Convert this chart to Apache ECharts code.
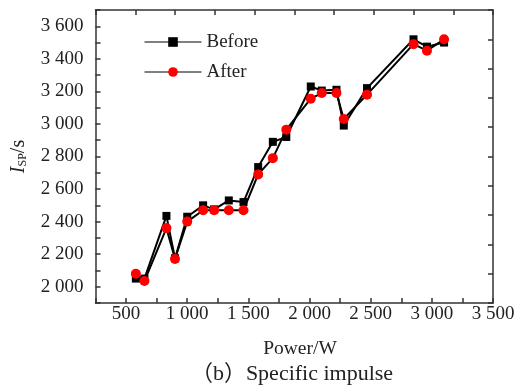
<!DOCTYPE html>
<html>
<head>
<meta charset="utf-8">
<script src="https://cdn.jsdelivr.net/npm/echarts@6/dist/echarts.min.js"></script>
<style>html,body{margin:0;padding:0;background:#fff}#c{width:519px;height:391px}</style>
</head>
<body>
<div id="c"></div>
<script>
const power = [580, 650, 830, 900, 1000, 1130, 1220, 1340, 1460, 1580, 1700, 1810, 2010, 2100, 2220, 2280, 2470, 2850, 2960, 3100];
const before = [2050, 2050, 2435, 2175, 2430, 2500, 2475, 2530, 2520, 2735, 2890, 2920, 3230, 3205, 3210, 2990, 3220, 3520, 3475, 3500];
const after = [2080, 2035, 2360, 2170, 2400, 2470, 2470, 2470, 2470, 2690, 2790, 2965, 3155, 3190, 3190, 3030, 3180, 3490, 3450, 3520];
const xTickLabels = [500, 1000, 1500, 2000, 2500, 3000, 3500];
const yTickLabels = [2000, 2200, 2400, 2600, 2800, 3000, 3200, 3400, 3600];
const seriesNames = ['Before', 'After'];

const fmt = v => { const s = String(v); return s.length > 3 ? s.slice(0, s.length - 3) + ' ' + s.slice(-3) : s; };
const FONT = 'Liberation Serif';
const axisCol = '#333';

const chart = echarts.init(document.getElementById('c'), null, {renderer: 'canvas'});
chart.setOption({
  animation: false,
  backgroundColor: '#fff',
  textStyle: {fontFamily: FONT},
  grid: {left: 95, right: 26, top: 10, bottom: 88, containLabel: false},
  title: [
    {text: 'Power/W', left: 295, top: 334, textAlign: 'center',
     textStyle: {fontFamily: FONT, fontSize: 19.5, fontWeight: 'normal', color: '#222'}},
    {text: '（b）Specific impulse', left: 287, top: 358, textAlign: 'center',
     textStyle: {fontFamily: FONT + ', Noto Sans CJK SC', fontSize: 22, fontWeight: 'normal', color: '#222'}}
  ],
  legend: {
    orient: 'vertical', left: 144, top: 32, itemWidth: 57, itemHeight: 12, itemGap: 10, padding: 0,
    data: seriesNames,
    lineStyle: {width: 1},
    textStyle: {fontFamily: FONT, fontSize: 19, color: '#222', lineHeight: 20}
  },
  xAxis: [
    {type: 'value', min: 250, max: 3500, interval: 250, position: 'bottom',
     axisLine: {show: true, onZero: false, lineStyle: {color: axisCol, width: 1.5}},
     axisTick: {show: true, inside: true, length: 5, lineStyle: {color: axisCol, width: 1.5}},
     axisLabel: {show: true, margin: 2, color: '#222', fontFamily: FONT, fontSize: 19,
       showMinLabel: true, showMaxLabel: true,
       formatter: v => xTickLabels.includes(v) ? fmt(v) : ''},
     splitLine: {show: false}},
    {type: 'value', min: 0, max: 10, interval: 1, position: 'top',
     axisLine: {show: true, onZero: false, lineStyle: {color: axisCol, width: 1.5}},
     axisTick: {show: true, inside: true, length: 5, lineStyle: {color: axisCol, width: 1.5}},
     axisLabel: {show: false}, splitLine: {show: false}}
  ],
  yAxis: [
    {type: 'value', min: 1900, max: 3700, interval: 100, position: 'left',
     name: '{i|I}{sub|SP}{n|/s}', nameLocation: 'middle', nameGap: 66, nameRotate: 90,
     nameTextStyle: {rich: {
       i: {fontFamily: FONT, fontSize: 20, fontStyle: 'italic', color: '#222', lineHeight: 22},
       sub: {fontFamily: FONT, fontSize: 12, color: '#222', padding: [9, 0, 0, 0], lineHeight: 22},
       n: {fontFamily: FONT, fontSize: 20, color: '#222', lineHeight: 22}
     }},
     axisLine: {show: true, onZero: false, lineStyle: {color: axisCol, width: 1.5}},
     axisTick: {show: true, inside: true, length: 5, lineStyle: {color: axisCol, width: 1.5}},
     axisLabel: {show: true, margin: 12, color: '#222', fontFamily: FONT, fontSize: 19,
       formatter: v => yTickLabels.includes(v) ? fmt(v) : ''},
     splitLine: {show: false}},
    {type: 'value', min: 0, max: 10, interval: 1, position: 'right',
     axisLine: {show: true, onZero: false, lineStyle: {color: axisCol, width: 1.5}},
     axisTick: {show: true, inside: true, length: 5, lineStyle: {color: axisCol, width: 1.5}},
     axisLabel: {show: false}, splitLine: {show: false}}
  ],
  series: [
    {name: seriesNames[0], type: 'line', xAxisIndex: 0, yAxisIndex: 0,
     data: power.map((p, i) => [p, before[i]]),
     symbol: 'rect', symbolSize: 8,
     lineStyle: {color: '#000', width: 2},
     itemStyle: {color: '#000'}},
    {name: seriesNames[1], type: 'line', xAxisIndex: 0, yAxisIndex: 0,
     data: power.map((p, i) => [p, after[i]]),
     symbol: 'circle', symbolSize: 10,
     lineStyle: {color: '#000', width: 2},
     itemStyle: {color: '#ff0000'}}
  ]
});
</script>
</body>
</html>
